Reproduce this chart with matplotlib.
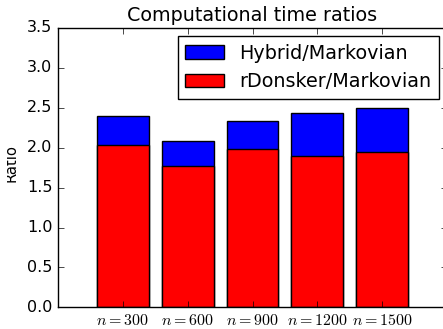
import numpy as np
import matplotlib
matplotlib.use('Agg')
import matplotlib.pyplot as plt
from matplotlib.patches import Rectangle

plt.style.use('classic')

n_values = [300, 600, 900, 1200, 1500]
hybrid = [2.40, 2.08, 2.34, 2.43, 2.50]
rdonsker = [2.04, 1.77, 1.98, 1.90, 1.94]

tick_labels = ['$n=%d$' % n for n in n_values]
x = np.arange(1, len(n_values) + 1)

fig = plt.figure(figsize=(4.43, 3.29), dpi=100)
ax = fig.add_axes([58 / 443, 1 - 307.3 / 329, 389 / 443, 279.3 / 329])

ax.bar(x, hybrid, width=0.8, color='b', align='center', label='Hybrid/Markovian')
ax.bar(x, rdonsker, width=0.8, color='r', align='center', label='rDonsker/Markovian')

ax.set_xlim(0, 6)
ax.set_ylim(0, 3.5)
ax.set_xticks(x)
ax.set_xticklabels(tick_labels)
ax.tick_params(labelsize=11.5)
ax.set_title('Computational time ratios', fontsize=13.8)
ax.set_ylabel('Ratio', fontsize=10.6)
ax.yaxis.set_label_coords(-0.101, 0.518)
ax.legend(loc='upper right', fontsize=13.8, borderaxespad=0.42)

# the original picture is cut off on the left, through the y label
fig.add_artist(Rectangle((0, 0), 7 / 443, 1, transform=fig.transFigure,
                         facecolor='white', edgecolor='none', zorder=10))

fig.savefig('out.png', dpi=100)
